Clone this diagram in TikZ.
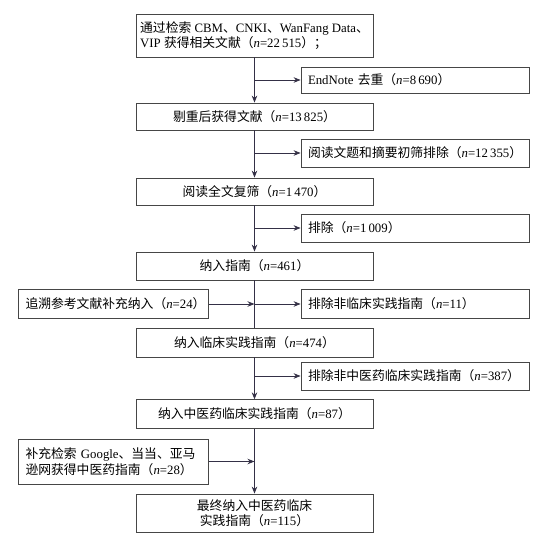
\documentclass[tikz,border=0pt]{standalone}
\usepackage{fontspec}
\setmainfont{Liberation Serif}
\newfontfamily\cjk{Noto Sans CJK SC}
\usepackage{xcolor}
\usetikzlibrary{arrows.meta,positioning,calc}

\definecolor{linecol}{RGB}{52,48,70}
\definecolor{boxcol}{RGB}{70,70,70}
\newcommand{\zh}[1]{{\cjk #1}}
\newcommand{\nn}[1]{\textit{n}=#1}

\begin{document}
\begin{tikzpicture}[
    x=1pt,y=-1pt,
    font=\fontsize{12.8}{15.5}\selectfont,
    mainbox/.style={draw=boxcol,line width=0.8pt,minimum width=237pt,
      minimum height=27pt,align=center,inner sep=3pt},
    sidebox/.style={draw=boxcol,line width=0.8pt,text width=214pt,
      inner xsep=7pt,minimum height=27pt,align=left},
    leftbox/.style={draw=boxcol,line width=0.8pt,text width=176pt,
      inner xsep=7pt,minimum height=29pt,align=left},
    flow/.style={-{Stealth[length=7pt,width=5.5pt]},line width=0.8pt,linecol},
    plain/.style={line width=0.8pt,linecol}
  ]
    \useasboundingbox (0,0) rectangle (546,535);

    % main column
    \node[mainbox,minimum height=43pt,align=left] (search) at (254.5,35.5)
      {\zh{通过检索} CBM\zh{、}CNKI\zh{、}WanFang Data\zh{、}\\
       VIP \zh{获得相关文献（}\nn{22\,515}\zh{）；}};
    \node[mainbox] (dedup) at (254.5,116.5)
      {\zh{剔重后获得文献（}\nn{13\,825}\zh{）}};
    \node[mainbox] (fulltext) at (254.5,191.5)
      {\zh{阅读全文复筛（}\nn{1\,470}\zh{）}};
    \node[mainbox,minimum height=28pt] (guide) at (254.5,266)
      {\zh{纳入指南（}\nn{461}\zh{）}};
    \node[mainbox,minimum height=29pt] (clinical) at (254.5,342.5)
      {\zh{纳入临床实践指南（}\nn{474}\zh{）}};
    \node[mainbox,minimum height=28.5pt] (tcm) at (254.5,414)
      {\zh{纳入中医药临床实践指南（}\nn{87}\zh{）}};
    \node[mainbox,minimum height=38pt] (final) at (254.5,513)
      {\zh{最终纳入中医药临床}\\\zh{实践指南（}\nn{115}\zh{）}};

    % exclusions on the right
    \node[sidebox,minimum height=26pt] (endnote) at (415,80)
      {EndNote \zh{去重（}\nn{8\,690}\zh{）}};
    \node[sidebox,minimum height=28pt] (abstract) at (415,153)
      {\zh{阅读文题和摘要初筛排除（}\nn{12\,355}\zh{）}};
    \node[sidebox,minimum height=28pt] (excl) at (415,228)
      {\zh{排除（}\nn{1\,009}\zh{）}};
    \node[sidebox,minimum height=29pt] (nonclin) at (415,304)
      {\zh{排除非临床实践指南（}\nn{11}\zh{）}};
    \node[sidebox,minimum height=28pt] (nontcm) at (415,376)
      {\zh{排除非中医药临床实践指南（}\nn{387}\zh{）}};

    % additions on the left
    \node[leftbox] (refs) at (113.5,304)
      {\zh{追溯参考文献补充纳入（}\nn{24}\zh{）}};
    \node[leftbox,minimum height=45pt] (extra) at (113.5,461.5)
      {\zh{补充检索} Google\zh{、当当、亚马}\\
       \zh{逊网获得中医药指南（}\nn{28}\zh{）}};

    % connectors
    \draw[flow] (search) -- (dedup);
    \draw[flow] (dedup) -- (fulltext);
    \draw[flow] (fulltext) -- (guide);
    \draw[plain] (guide) -- (clinical);
    \draw[flow] (clinical) -- (tcm);
    \draw[flow] (tcm) -- (final);

    \draw[flow] (search.south |- endnote.west) -- (endnote.west);
    \draw[flow] (dedup.south |- abstract.west) -- (abstract.west);
    \draw[flow] (fulltext.south |- excl.west) -- (excl.west);
    \draw[flow] (guide.south |- nonclin.west) -- (nonclin.west);
    \draw[flow] (clinical.south |- nontcm.west) -- (nontcm.west);

    \draw[flow] (refs.east) -- (refs.east -| guide.south);
    \draw[flow] (extra.east) -- (extra.east -| tcm.south);
  \end{tikzpicture}
\end{document}
